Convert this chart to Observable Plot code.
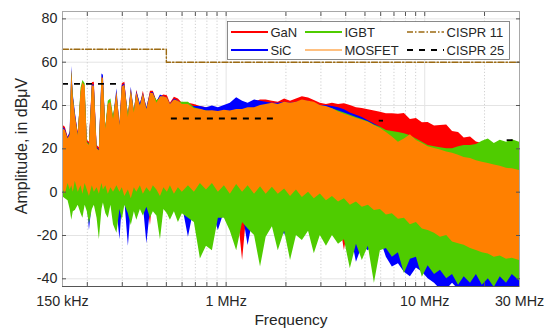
<!DOCTYPE html>
<html><head><meta charset="utf-8">
<script src="https://cdn.jsdelivr.net/npm/d3@7"></script>
<script src="https://cdn.jsdelivr.net/npm/@observablehq/plot@0.6"></script>
<style>
html,body{margin:0;padding:0;background:#fff;}
#chart svg{display:block;}
</style></head><body><div id="chart"></div>
<script>
// Frequency grid (MHz)
const freqMHz = [
  0.150,0.155,0.160,0.164,0.167,0.170,0.174,0.180,0.186,0.190,
  0.195,0.200,0.205,0.212,0.217,0.224,0.230,0.237,0.241,0.248,
  0.255,0.263,0.271,0.282,0.292,0.300,0.309,0.322,0.333,0.345,
  0.355,0.370,0.383,0.399,0.416,0.430,0.448,0.467,0.486,0.506,
  0.524,0.549,0.575,0.602,0.646,0.692,0.742,0.796,0.853,0.914,
  0.980,1.05,1.13,1.21,1.29,1.39,1.49,1.59,1.71,1.83,
  1.97,2.11,2.26,2.42,2.60,2.78,2.98,3.20,3.43,3.68,
  3.94,4.22,4.53,4.85,5.20,5.58,5.98,6.41,6.87,7.37,
  7.90,8.47,9.08,9.73,10.4,11.2,12.0,12.9,13.8,14.8,
  15.8,17.0,18.2,19.5,20.9,22.4,24.0,25.8,27.6,30.0
];
// Upper / lower envelopes (dBµV)
const ganHi = [
  31,30,25.5,27,55,44,36,27.5,44,48,
  46,24,23,50.5,50.7,21.5,20.5,52,51,29.5,
  40,41,34,45.5,31.5,50,50.7,35,47,37,
  47,40,46.6,38.5,46.6,46.6,42,44,44.9,44.5,
  41,43.8,43,41,41,40.5,39.5,39,38.5,38,
  38.5,39,40,40.5,40.5,41.5,42.5,42.5,42,41.5,
  43,42,43,44,43.5,42.3,41,40.5,41,40.5,
  40.8,40,39,38.6,38,37.5,36.9,36.2,36.2,36,
  36.3,33.5,34,32,32.2,30.5,30.8,31,28,27.5,
  25,25.5,23.2,22.5,20.5,19,18,17,16,15
];
const ganLo = [
  0,0,1,0,-2,-1,1,-1,0,-2,
  1,0,-3,0,-1,0,-2,1,0,0,
  -2,0,-1,-1,-2,0,-1,-1,-2,0,
  -1,0,-2,-1,-15.4,0,-1,-2,0,-1,
  0,-2,-1,0,-1,-2,0,-2,-1,-3,
  -2,-3,-4,-31.5,-4,-5,-4,-5,-4,-6,
  -5,-6,-5,-7,-6,-8,-7,-9,-8,-10,
  -26.9,-11,-12,-13,-14,-15,-15,-16,-17,-18,
  -19,-20,-21,-22,-23,-24,-25,-26,-27,-28,
  -29,-30,-31,-32,-33,-34,-35,-36,-36,-36
];
const sicHi = [
  30,29,25,28,58,45,37,26.5,46,49,
  47,23,22,49.5,49.5,20.5,19.5,54.5,54,29,
  40,41,34,47.7,30.5,49,50,35,48.4,37,
  46.5,40.8,45.5,39,45.5,46,41.5,44.9,44,43.5,
  40.5,43,42,40.5,40,39.5,39.6,39,39.8,39,
  40,41,43.6,42,41,42.6,42,41.5,41,41,
  41.5,41,41.5,42,42,41,40,40,39.5,39,
  38,36.5,35.5,34.5,33,31.5,30,27,25,23,
  22,21.5,21,20.5,20,19.5,19,18.5,18,17,
  16.5,16,15,14.5,14,13.5,13,12.5,12,11.5
];
const sicLo = [
  -1,-2,-3,-4,-10,-6,-3,-5.3,-3,-4,
  -3,-5,-17.7,-5,-4,-6,-7,-2,-3,-5,
  -6,-4,-7,-8,-22,-6,-4,-25,-8,-5,
  -6,-4,-6,-23.8,-8,-5,-6,-9,-5,-6,
  -7,-6,-7,-6,-20.8,-7,-8,-10,-9,-17.7,
  -9,-8,-10,-9,-24.6,-9,-11,-10,-11,-12,
  -20,-12,-11,-13,-12,-14,-13,-14,-15,-22.3,
  -16,-18,-32.3,-25,-27,-24,-22,-30,-34.6,-33,
  -37,-39,-35,-37,-40,-42,-45,-45,-42,-45,
  -45,-44,-45,-45,-45,-45,-45,-45,-45,-45
];
const igbtHi = [
  29,28,24.5,26,56,44,35,26,48,51.5,
  50,23,22,48,48,20,19,52,51,30,
  42,43,35,45,30,47,48,36,46,37.7,
  45,39.5,44.5,38,44.5,45,42.3,43,43.5,43,
  40,42,41.5,41.5,41.5,39,38,37.5,37,36.5,
  37,37,37.5,38,38,38.5,39,39.5,40,40,
  40,40,40,40.5,40.5,40,39.5,39,38.5,37.5,
  36.5,35.5,34.5,33.5,32.5,31,30,28.5,28,27.5,
  27,26,24.5,23,21.5,21,20.5,20,20,21,
  21.5,21.5,22,23.5,24.5,22.5,24,23,24.2,23
];
const igbtLo = [
  -2,-3,-4,-8,-13,-9,-8.5,-6,-10,-12,
  -6,-9,-14.6,-8,-6,-12,-22,-8,-5,-10,
  -12,-6,-15,-19,-8,-13,-6,-10,-15.4,-9,
  -13,-8,-11,-7,-12,-9,-11,-22,-8,-10,
  -13,-9,-14,-10,-12,-14,-30.8,-25,-27,-12,
  -12,-18,-27,-14,-17,-20,-34.6,-20.8,-16,-27,
  -18,-31.5,-20,-22.3,-18,-28.4,-20,-25,-20,-24,
  -22,-35.4,-24,-31.5,-25,-42,-27,-26,-30,-28,
  -37.6,-31,-30,-39.3,-34,-38,-36,-40,-38,-43,
  -39,-42,-38,-43,-40,-44,-39,-42,-38,-41
];
const mosfetHi = [
  29.5,28.5,24.5,26.5,56.5,43.5,35.5,26,46.5,50.5,
  49,22.5,21.5,49,49,20,19,53,52.5,29,
  40.5,41.5,33.5,46.5,30.5,48.5,49.5,34.5,47.5,36.5,
  46,39.5,45.5,38,45.5,45.5,41,44,44,43.5,
  40.5,42.5,42,40.5,40.5,38.5,38.3,37.5,37.6,37.2,
  37.8,37.5,38.2,38.2,39,39,40,40.5,41,40.5,
  41.5,41,41.5,42.5,42,41.5,40,39.5,38.5,37,
  36,35,34,33.2,32.3,30.8,29.4,27.5,25.5,23,
  24.5,26.5,23.8,22.5,21,20.2,19.5,18.5,18,17,
  16,15.5,14.5,13.8,13.2,12.5,12,11,10.8,10
];
const mosfetLo = [
  2,-1,4,1,3,0,5,0,3,-1,
  4,1,-2,3,0,2,-1,4,1,3,
  -1,2,0,3,0,2,-2,1,-3,2,
  0,3,-1,2,0,3,1,-2,2,0,
  3,-1,2,0,3,0,4,1,4,0,
  3,-1,3.5,0,3,-1,2.5,-1,2.3,-1,
  1.5,-2,1,-2.5,0,-3,-0.8,-4,-2,-4.5,
  -3,-6,-4.5,-7,-6,-8.5,-8,-10.5,-10,-12.5,
  -12,-15,-14,-17,-17.7,-19,-20.8,-20,-23,-23.8,
  -24.5,-26,-26.9,-28,-28.5,-30,-29.5,-31,-30.5,-31.5
];
const seriesNames = ["GaN","SiC","IGBT","MOSFET"];
const seriesColors = ["#ff0000","#0000ff","#4fcc00","#ff8000"];
const legendSwatch = ["#ff0000","#0000ff","#4fcc00","#ffc080"];

// Limit lines
const cispr11F = [0.15, 0.5, 30];
const cispr11V = [66, 60, 60];
const cispr25Start = [0.15, 0.53, 5.9, 26];
const cispr25End = [0.3, 1.8, 6.2, 28];
const cispr25V = [50, 34, 33, 24];

// Ticks
const xTicks = [0.15, 1, 10, 30];
const xTickLabels = ["150 kHz", "1 MHz", "10 MHz", "30 MHz"];
const minorGrid = [0.2,0.3,0.4,0.5,0.6,0.7,0.8,0.9,2,3,4,5,6,7,8,9,20];
const majorGrid = [1, 10];
const yTicks = [-40, -20, 0, 20, 40, 60, 80];

const his = [ganHi, sicHi, igbtHi, mosfetHi];
const los = [ganLo, sicLo, igbtLo, mosfetLo];
const tables = seriesNames.map((s, k) => freqMHz.map((f, i) => ({f, hi: his[k][i], lo: los[k][i]})));
const c11 = cispr11F.map((f, i) => ({f, v: cispr11V[i]}));
const c25 = cispr25V.map((v, i) => ({a: cispr25Start[i], b: cispr25End[i], v}));
const allXTicks = [...minorGrid, ...majorGrid];
const fmtY = d => (d < 0 ? "-" + Math.abs(d) : String(d));
const font = "'Liberation Sans', Arial, sans-serif";

const svg = Plot.plot({
  width: 555,
  height: 333,
  marginLeft: 62,
  marginRight: 36,
  marginTop: 11,
  marginBottom: 47,
  style: {fontFamily: font, fontSize: "14.3px", color: "#262626", background: "#fff"},
  x: {type: "log", domain: [0.15, 30], label: null},
  y: {domain: [-43.55, 83.4], label: null},
  marks: [
    Plot.ruleY(yTicks, {stroke: "#e4e4e4", strokeWidth: 1}),
    Plot.ruleX(minorGrid, {stroke: "#c4c4c4", strokeWidth: 0.8, strokeDasharray: "1.2,2"}),
    Plot.ruleX(majorGrid, {stroke: "#e4e4e4", strokeWidth: 1}),
    ...tables.map((t, k) => Plot.areaY(t, {x: "f", y1: "lo", y2: "hi", fill: seriesColors[k], clip: true})),
    Plot.line(c11, {x: "f", y: "v", curve: "step-after", stroke: "#9c6a12", strokeWidth: 1.4, strokeDasharray: "6,2,1.5,2"}),
    Plot.ruleY(c25, {y: "v", x1: "a", x2: "b", stroke: "#000", strokeWidth: 1.8, strokeDasharray: "6,6"}),
    Plot.frame({stroke: "#a8a8a8", strokeWidth: 1}),
    Plot.axisX(allXTicks, {anchor: "bottom", tickSize: -4, tickFormat: () => "", label: null, stroke: "#555"}),
    Plot.axisX(allXTicks, {anchor: "top", tickSize: -4, tickFormat: () => "", label: null, stroke: "#555"}),
    Plot.axisY(yTicks, {anchor: "left", tickSize: -4, tickFormat: () => "", label: null, stroke: "#555"}),
    Plot.axisY(yTicks, {anchor: "right", tickSize: -4, tickFormat: () => "", label: null, stroke: "#555"}),
    Plot.text(xTicks, {x: d => d, text: (d, i) => xTickLabels[i], frameAnchor: "bottom", dy: 19, fontSize: 14.3, fill: "#262626", textAnchor: "middle"}),
    Plot.axisY(yTicks, {anchor: "left", tickSize: 0, tickPadding: 5, fontSize: 14.3, label: null, tickFormat: fmtY}),
    Plot.ruleY([-43.55], {stroke: "#555", strokeWidth: 1}),
    Plot.text(["Frequency"], {text: d => d, frameAnchor: "bottom", dy: 38.5, fontSize: 15.5, fill: "#262626", textAnchor: "middle"}),
    Plot.text(["Amplitude, in dBμV"], {text: d => d, frameAnchor: "left", dx: -41, dy: -3, rotate: -90, fontSize: 16, fill: "#262626", textAnchor: "middle"})
  ]
});

// Legend box inside the plot area
const lg = d3.select(svg).append("g").attr("font-family", font).attr("font-size", 13)
  .attr("fill", "#262626").attr("text-anchor", "start");
lg.append("rect").attr("x", 227.5).attr("y", 21.5).attr("width", 282).attr("height", 38)
  .attr("fill", "#fff").attr("stroke", "#6e6e6e").attr("stroke-width", 0.8);
const legendItems = [
  {name: seriesNames[0], color: legendSwatch[0], dash: null, w: 2},
  {name: seriesNames[1], color: legendSwatch[1], dash: null, w: 2},
  {name: seriesNames[2], color: legendSwatch[2], dash: null, w: 2},
  {name: seriesNames[3], color: legendSwatch[3], dash: null, w: 2},
  {name: "CISPR 11", color: "#9c6a12", dash: "6,2,1.5,2", w: 1.4},
  {name: "CISPR 25", color: "#000", dash: "6,6", w: 1.8}
];
const colX = [231, 305, 407];
const rowY = [32, 50];
legendItems.forEach((it, i) => {
  const cx = colX[Math.floor(i / 2)], cy = rowY[i % 2];
  const ln = lg.append("line").attr("x1", cx).attr("x2", cx + 37).attr("y1", cy).attr("y2", cy)
    .attr("stroke", it.color).attr("stroke-width", it.w);
  if (it.dash) ln.attr("stroke-dasharray", it.dash);
  lg.append("text").attr("x", cx + 39.5).attr("y", cy + 4.6).attr("text-anchor", "start").text(it.name);
});

document.getElementById("chart").appendChild(svg);
</script></body></html>
